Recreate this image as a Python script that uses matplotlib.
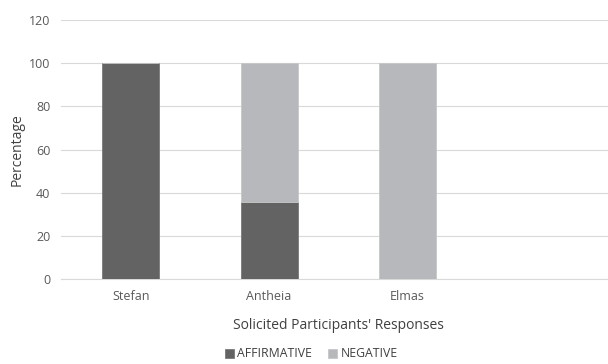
import matplotlib.pyplot as plt
import numpy as np

plt.rcParams['font.family'] = ['Open Sans', 'DejaVu Sans']

categories = ['Stefan', 'Antheia', 'Elmas', '']
affirmative = [100, 35.7, 0, 0]
negative = [0, 64.3, 100, 0]

fig = plt.figure(figsize=(6.08, 3.64), dpi=100)
ax = fig.add_axes([0.101, 0.2335, 0.911, 0.7115])

x = np.arange(len(categories))
w = 0.41
ax.bar(x, affirmative, w, color='#636363', edgecolor='#7a7a7a', linewidth=0.6,
       label='AFFIRMATIVE', zorder=3)
ax.bar(x, negative, w, bottom=affirmative, color='#b7b8bb', edgecolor='#c6c7c9',
       linewidth=0.6, label='NEGATIVE', zorder=3)

ax.set_xlim(-0.5, len(categories) - 0.5)
ax.set_ylim(0, 120)
ax.set_yticks(range(0, 121, 20))
ax.set_xticks(x)
ax.set_xticklabels(categories)
ax.yaxis.grid(True, color='#d9d9d9', linewidth=0.8, zorder=0)
for s in ['top', 'right', 'left']:
    ax.spines[s].set_visible(False)
ax.spines['bottom'].set_color('#d9d9d9')
ax.tick_params(axis='both', length=0, labelsize=9, colors='#595959', pad=8)

ax.set_xlabel("Solicited Participants' Responses", fontsize=10, color='#404040', labelpad=11)
ax.set_ylabel('Percentage', fontsize=10, color='#404040', labelpad=3)

handles, labels = ax.get_legend_handles_labels()
fig.legend(handles, labels, loc='center', bbox_to_anchor=(0.512, 0.028), ncol=2,
           frameon=False, fontsize=8.8, handlelength=0.75, handleheight=0.75,
           columnspacing=1.3, handletextpad=0.3, labelcolor='#404040')

fig.savefig('out.png', dpi=100)
